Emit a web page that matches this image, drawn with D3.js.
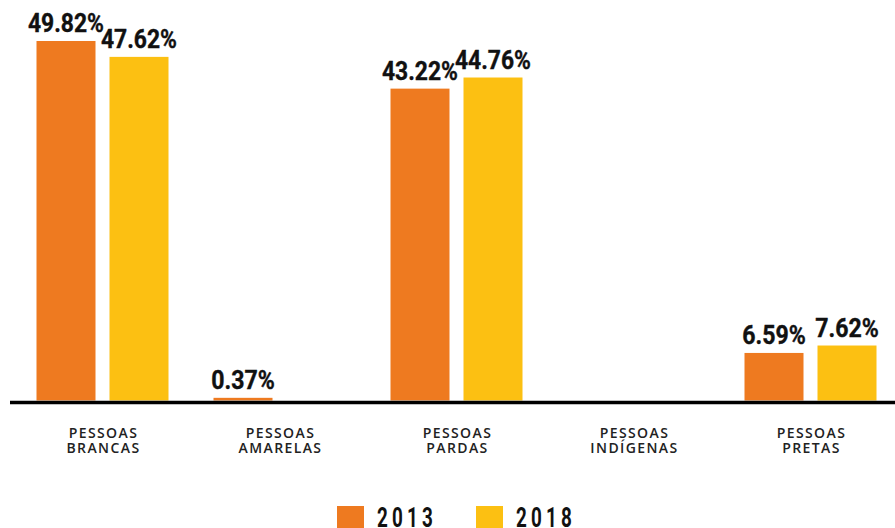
<!DOCTYPE html>
<html lang="pt">
<head>
  <meta charset="UTF-8">
  <title>Pessoas por cor/raça</title>
  <script src="https://d3js.org/d3.v7.min.js"></script>
  <style>
    body { margin: 0; background: #fff; }
    svg { display: block; }
    .val { font-family: Roboto, 'Liberation Sans', sans-serif; font-weight: 700; fill: #111; }
    .cat { font-family: 'Open Sans', sans-serif; font-weight: 600; font-size: 14px; letter-spacing: 1.4px; fill: #222; }
    .leg { font-family: Roboto, 'Liberation Sans', sans-serif; font-weight: 700; font-size: 27px; letter-spacing: 6px; fill: #111; }
  </style>
</head>
<body>
<div id="chart"></div>
<script>
  // data
  const categories = ["PESSOAS|BRANCAS", "PESSOAS|AMARELAS", "PESSOAS|PARDAS", "PESSOAS|INDÍGENAS", "PESSOAS|PRETAS"];
  const years = ["2013", "2018"];
  const values2013 = [49.82, 0.37, 43.22, null, 6.59];
  const values2018 = [47.62, null, 44.76, null, 7.62];
  const colors = ["#EE7A20", "#FCC012"];

  const width = 895, height = 528;
  const baseline = 400.5;

  const svg = d3.select("#chart").append("svg")
    .attr("width", width)
    .attr("height", height);

  const x = d3.scaleBand()
    .domain(categories)
    .range([14, 899]);

  // two bars of 59px with a 14px gap, centred in each band
  const xSub = d3.scaleBand()
    .domain(years)
    .range([x.bandwidth() / 2 - 66, x.bandwidth() / 2 + 66])
    .paddingInner(14 / 73);

  const y = d3.scaleLinear()
    .domain([0, 50])
    .range([baseline, 39.7]);

  const color = d3.scaleOrdinal().domain(years).range(colors);

  const rows = [];
  categories.forEach((c, i) => {
    [values2013[i], values2018[i]].forEach((v, j) => {
      if (v != null) rows.push({ cat: c, year: years[j], value: v });
    });
  });

  // condensed look: squeeze the label to a width per glyph
  const squeeze = s => s.split("").reduce((w, ch) => w + (ch === "." ? 6 : ch === "%" ? 20 : 12.5), 0);

  const groups = svg.append("g");

  groups.selectAll("rect")
    .data(rows)
    .enter()
    .append("rect")
    .attr("x", d => x(d.cat) + xSub(d.year))
    .attr("y", d => y(d.value))
    .attr("width", xSub.bandwidth())
    .attr("height", d => baseline - y(d.value))
    .attr("fill", d => color(d.year));

  groups.selectAll("text.val")
    .data(rows)
    .enter()
    .append("text")
    .attr("class", "val")
    .attr("x", d => x(d.cat) + xSub(d.year) + xSub.bandwidth() / 2 - squeeze(d.value.toFixed(2) + "%") / 2)
    .attr("y", d => y(d.value) - 8.5)
    .attr("font-size", 26)
    .attr("stroke", "#111")
    .attr("stroke-width", 0.4)
    .attr("textLength", d => squeeze(d.value.toFixed(2) + "%"))
    .attr("lengthAdjust", "spacingAndGlyphs")
    .text(d => d.value.toFixed(2) + "%");

  // axis baseline
  const axis = d3.axisBottom(x).tickSize(0).tickFormat("");
  svg.append("g")
    .attr("transform", `translate(0,${baseline + 2})`)
    .call(axis)
    .call(g => g.select(".domain")
      .attr("d", `M10,0H${width}`)
      .attr("stroke", "#000")
      .attr("stroke-width", 3.5));

  // category labels
  const cat = svg.append("g").selectAll("text.cat")
    .data(categories)
    .enter()
    .append("text")
    .attr("class", "cat")
    .attr("text-anchor", "middle")
    .attr("x", d => x(d) + x.bandwidth() / 2 + 1)
    .attr("y", 437.5);
  cat.append("tspan")
    .attr("x", d => x(d) + x.bandwidth() / 2 + 1)
    .text(d => d.split("|")[0]);
  cat.append("tspan")
    .attr("x", d => x(d) + x.bandwidth() / 2 + 1)
    .attr("dy", 15)
    .text(d => d.split("|")[1]);

  // legend
  const legend = svg.append("g");
  const legX = d3.scalePoint().domain(years).range([337, 476]);
  legend.selectAll("rect")
    .data(years)
    .enter()
    .append("rect")
    .attr("x", d => legX(d))
    .attr("y", 506)
    .attr("width", 27)
    .attr("height", 22)
    .attr("fill", d => color(d));
  legend.selectAll("text")
    .data(years)
    .enter()
    .append("text")
    .attr("class", "leg")
    .attr("x", d => legX(d) + 40)
    .attr("y", 527)
    .attr("textLength", 60)
    .attr("lengthAdjust", "spacingAndGlyphs")
    .text(d => d);
</script>
</body>
</html>
